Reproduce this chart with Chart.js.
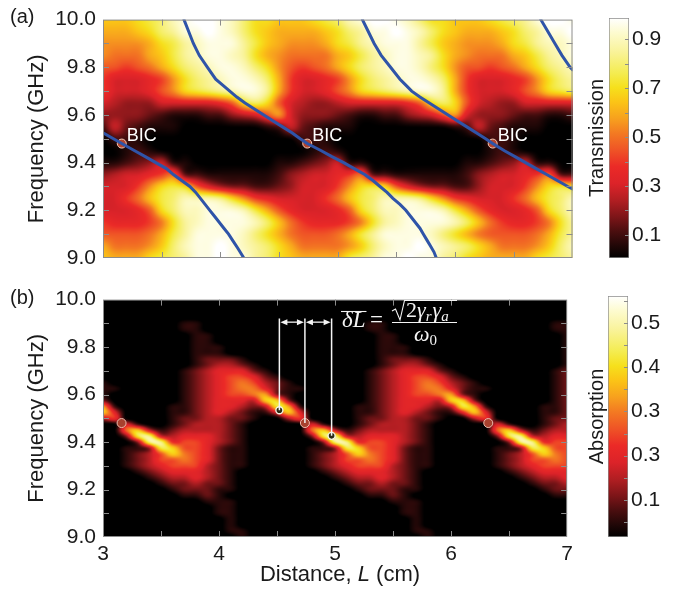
<!DOCTYPE html>
<html>
<head>
<meta charset="utf-8">
<title>BIC transmission and absorption maps</title>
<script src="https://cdn.jsdelivr.net/npm/chart.js@4.4.1/dist/chart.umd.min.js"></script>
<style>
  html, body { margin: 0; padding: 0; background: #fff; }
  #fig { position: relative; width: 676px; height: 591px; overflow: hidden; }
  #fig canvas { position: absolute; }
</style>
</head>
<body>
<div id="fig">
  <canvas id="mapA" width="578" height="280" style="left:0;top:0"></canvas>
  <canvas id="barA" width="98" height="280" style="left:578px;top:0"></canvas>
  <canvas id="mapB" width="578" height="311" style="left:0;top:280px"></canvas>
  <canvas id="barB" width="98" height="311" style="left:578px;top:280px"></canvas>
</div>
<script>
const FONT = '"Liberation Sans", Helvetica, Arial, sans-serif';
const SERIF = '"Liberation Serif", "DejaVu Serif", serif';
Chart.defaults.font.family = FONT;
Chart.defaults.color = '#1a1a1a';
Chart.defaults.animation = false;

// one character per cell, in steps of 0.05 (0 -> 0.00, A -> 0.50, K -> 1.00)
const LEVELS = '0123456789ABCDEFGHIJK';

// (a) transmission: rows f = 10.00 ... 9.00 GHz (step 0.05), columns L = 3.0 ... 7.0 cm (step 0.1)
const transRows = [
  'DDDEFGIJKKJIGEEDDDEFGIJKKJIGEEDDDEFGHJKKJ',
  'CCCDEGHJJKJIGEDCCCCDEGHJJKJIGEDCCCDEGHJJK',
  'BBBBCEFHIJJJHFDCBBBCEFHIJJJHFDCBBBCEFHIIJ',
  'BAAACDFHIJJIHECBAAAACDFHIJJIHECBAAACDFHIJ',
  '9989ACEGHIJJIGEB989ACEGHIJJIGEB9989ACEGHI',
  '866678BEGHIJJIGC86678BEGHIJJIGC866678BEGH',
  '866679BEFGHIJJHC86679BEFGHIJJHC866679BEFG',
  '654446666679EGE9654456666679EGE9654466666',
  '444432111224569C64443211224569C6444322112',
  '26321110000000126321110000000012632111000',
  '02210000000000000221000000000000022100000',
  '00121000000000000012100000000000012100000',
  '11234611000000011234611000000001123461100',
  '456678A221111112456678A221111112456678A22',
  '6668BEFE9643322346668BEFE964332246668BEFE',
  '668ADFGIIIHEB8766668ADFGIIIHEB876668ADFGI',
  '66679EGIIJJJIFC9766679EGIIJJJIFC976679EGI',
  '87778AEHIJJJJIGDA87778AEHIJJJJIGDA8778AEH',
  '9999ACFHJJJJIGECA999ACFHJJJJIGECA9999ACFH',
  'CAAABDGIJJKJIHGECAAAABDGIJJKJIHGECAAABDGI',
  'DCCCEFGHJJKJJHGEDCCCCFGHJJKJJHGEDCCCCEFGH'
];

// (b) absorption: rows f = 10.000 ... 9.000 GHz (step 0.025), columns L = 3.0 ... 7.0 cm (step 0.1)
const absRows = [
  '00000000000000000000000000000000000000000',
  '00000000000000000000000000000000000000000',
  '00000000000000000000000000000000000000000',
  '00000000000000000000000000000000000000000',
  '00000001100000000000000110000000000000011',
  '00000001100000000000000110000000000000011',
  '00000000110000000000000011000000000000001',
  '00000000110000000000000011000000000000001',
  '00000000111000000000000011100000000000001',
  '00000000111000000000000011100000000000001',
  '00000000122210000000000012221000000000001',
  '00000000123321000000000012332100000000001',
  '00000001234442100000000123444210000000012',
  '00000001234554210000000123455421000000012',
  '10000001234565321000000123456532100000012',
  '11000001234566421100000123456642110000012',
  '10000001234556721000000123455672100000012',
  '20000001234443882000000123444388200000012',
  '71000011234432397100001123443239710000112',
  '84000011234321148400001123432114840000112',
  '35000012233221003500001223322100350000122',
  '00410012333210000041001233321000004100123',
  '00683123333210000068312333321000006831233',
  '0029A334443210000029A334443210000029A3344',
  '0002AA45543210000002AA45543210000002AA455',
  '00112985542110000011298554211000001129855',
  '00123586542110000012358654211000001235865',
  '00123556542110000012355654211000001235565',
  '00123455532110000012345553211000001234555',
  '00012344432100000001234443210000000123444',
  '00001233432100000000123343210000000012334',
  '00000122322100000000012232210000000001223',
  '00000012221100000000001222110000000000122',
  '00000001121000000000000112100000000000011',
  '00000000011100000000000001110000000000000',
  '00000000001100000000000000110000000000000',
  '00000000001100000000000000110000000000000',
  '00000000000100000000000000010000000000000',
  '00000000000100000000000000010000000000000',
  '00000000000110000000000000011000000000000',
  '00000000000010000000000000001000000000000'
];

// eigenmode branches drawn in blue in (a): [L (cm), f (GHz)]
const branchA = [[3.00, 9.525], [3.16, 9.48], [3.27, 9.45], [3.36, 9.425], [3.45, 9.40], [3.54, 9.375],
  [3.60, 9.35], [3.67, 9.325], [3.74, 9.30], [3.79, 9.275], [3.83, 9.25], [3.87, 9.225], [3.91, 9.20],
  [3.95, 9.175], [3.99, 9.15], [4.03, 9.125], [4.07, 9.10], [4.11, 9.07], [4.15, 9.04], [4.20, 9.00]];
const branchB = [[3.69, 10.0], [3.73, 9.95], [3.77, 9.90], [3.82, 9.85], [3.89, 9.80], [3.96, 9.75],
  [4.02, 9.725], [4.08, 9.70], [4.14, 9.675], [4.21, 9.65], [4.29, 9.625], [4.37, 9.60], [4.45, 9.575],
  [4.53, 9.55], [4.61, 9.525], [4.68, 9.50], [4.74, 9.48], [4.86, 9.45], [4.95, 9.425], [5.05, 9.40],
  [5.14, 9.375], [5.23, 9.35], [5.30, 9.325], [5.36, 9.30], [5.42, 9.275], [5.47, 9.25], [5.53, 9.225],
  [5.58, 9.20], [5.62, 9.175], [5.66, 9.15], [5.70, 9.125], [5.73, 9.10], [5.76, 9.075], [5.79, 9.05],
  [5.82, 9.025], [5.84, 9.00]];
const branchC = [[5.21, 10.0], [5.26, 9.95], [5.31, 9.90], [5.37, 9.85], [5.45, 9.80], [5.53, 9.75],
  [5.58, 9.725], [5.63, 9.70], [5.70, 9.675], [5.78, 9.65], [5.86, 9.625], [5.94, 9.60], [6.02, 9.575],
  [6.10, 9.55], [6.18, 9.525], [6.26, 9.50], [6.32, 9.48], [6.42, 9.45], [6.51, 9.425], [6.60, 9.40],
  [6.69, 9.375], [6.78, 9.35], [6.87, 9.325], [6.96, 9.30], [7.00, 9.29]];
const branchD = [[6.73, 10.0], [6.79, 9.95], [6.85, 9.90], [6.91, 9.85], [6.98, 9.80], [7.00, 9.79]];

const bicL = [3.16, 4.74, 6.32];
const bicF = [9.48, 9.48, 9.48];
const qbicL = [4.52, 4.97];
const qbicF = [9.534, 9.426];
const guideTopF = 9.92;
const arrowF = 9.905;

const freqTicks = [9.0, 9.2, 9.4, 9.6, 9.8, 10.0];
const distTicks = [3, 4, 5, 6, 7];
const transTicks = [0.1, 0.3, 0.5, 0.7, 0.9];
const transTickLabels = ['0.1', '0.3', '0.5', '0.7', '0.9'];
const absTicks = [0.1, 0.2, 0.3, 0.4, 0.5];
const absTickLabels = ['0.1', '0.3', '0.3', '0.4', '0.5'];
const transRange = [0.006, 0.986];
const absRange = [0.016, 0.561];

// colour map (0 = bottom of bar, 1 = top)
const hotStops = [
  [0.00, '#000000'], [0.05, '#200707'], [0.11, '#4a0e0f'], [0.17, '#7c1518'],
  [0.24, '#b11e22'], [0.31, '#dc2329'], [0.38, '#eb2a27'], [0.45, '#ef5426'],
  [0.52, '#f37a22'], [0.58, '#f7a01e'], [0.65, '#fbc416'], [0.71, '#f6e01c'],
  [0.77, '#f4ec50'], [0.86, '#f9f39a'], [0.94, '#fdfbd0'], [1.00, '#ffffff']
];
const stopRGB = hotStops.map(([t, hex]) =>
  [t, parseInt(hex.slice(1, 3), 16), parseInt(hex.slice(3, 5), 16), parseInt(hex.slice(5, 7), 16)]);

function hot(t) {
  t = Math.min(Math.max(t, 0), 1);
  for (let i = 1; i < stopRGB.length; i++) {
    if (t <= stopRGB[i][0]) {
      const a = stopRGB[i - 1], b = stopRGB[i], u = (t - a[0]) / (b[0] - a[0]);
      return [a[1] + (b[1] - a[1]) * u, a[2] + (b[2] - a[2]) * u, a[3] + (b[3] - a[3]) * u];
    }
  }
  return stopRGB[stopRGB.length - 1].slice(1);
}

// Mitchell-Netravali cubic (B = C = 1/3) for smooth shading between cells
function mitchell(x) {
  x = Math.abs(x);
  if (x < 1) return (7 * x * x * x - 12 * x * x + 16 / 3) / 6;
  if (x < 2) return (-7 / 3 * x * x * x + 12 * x * x - 20 * x + 32 / 3) / 6;
  return 0;
}

function sampleGrid(grid, u, v) {
  const nr = grid.length;
  const rf = Math.min(Math.max(v, 0), 1) * (nr - 1);
  const r0 = Math.floor(rf);
  let sum = 0;
  for (let j = r0 - 1; j <= r0 + 2; j++) {
    const wy = mitchell(rf - j);
    if (!wy) continue;
    const row = grid[Math.min(Math.max(j, 0), nr - 1)];
    const nc = row.length;
    const cf = Math.min(Math.max(u, 0), 1) * (nc - 1);
    const c0 = Math.floor(cf);
    let rs = 0;
    for (let i = c0 - 1; i <= c0 + 2; i++) rs += mitchell(cf - i) * row[Math.min(Math.max(i, 0), nc - 1)];
    sum += wy * rs;
  }
  return sum;
}

// paints the cell grid into the chart area, positioned by the x / y scales
function heatmap(rows, range) {
  const grid = rows.map(r => Array.from(r, ch => LEVELS.indexOf(ch) * 0.05));
  return {
    id: 'heatmap',
    beforeDatasetsDraw(chart) {
      const { ctx, chartArea: a, scales: { x, y } } = chart;
      const w = Math.round(a.width), h = Math.round(a.height);
      const img = new ImageData(w, h);
      for (let py = 0; py < h; py++) {
        const v = (y.max - y.getValueForPixel(a.top + py + 0.5)) / (y.max - y.min);
        for (let px = 0; px < w; px++) {
          const u = (x.getValueForPixel(a.left + px + 0.5) - x.min) / (x.max - x.min);
          const c = hot((sampleGrid(grid, u, v) - range[0]) / (range[1] - range[0]));
          const k = (py * w + px) * 4;
          img.data[k] = c[0]; img.data[k + 1] = c[1]; img.data[k + 2] = c[2]; img.data[k + 3] = 255;
        }
      }
      const off = document.createElement('canvas');
      off.width = w; off.height = h;
      off.getContext('2d').putImageData(img, 0, 0);
      ctx.drawImage(off, a.left, a.top);
    }
  };
}

// grey frame with inward ticks on all four sides
const frameTicks = {
  id: 'frameTicks',
  afterDatasetsDraw(chart) {
    const { ctx, chartArea: a, scales: { x, y } } = chart;
    ctx.save();
    ctx.strokeStyle = '#8c8c8c';
    ctx.lineWidth = 1;
    ctx.beginPath();
    for (let v = 3.5; v < 7; v += 0.5) {
      const px = Math.round(x.getPixelForValue(v)) + 0.5;
      ctx.moveTo(px, a.top); ctx.lineTo(px, a.top + 6);
      ctx.moveTo(px, a.bottom); ctx.lineTo(px, a.bottom - 6);
    }
    for (let k = 1; k < 10; k++) {
      const py = Math.round(y.getPixelForValue(9 + k / 10)) + 0.5;
      ctx.moveTo(a.left, py); ctx.lineTo(a.left + 6, py);
      ctx.moveTo(a.right, py); ctx.lineTo(a.right - 6, py);
    }
    ctx.stroke();
    ctx.strokeRect(a.left + 0.5, a.top + 0.5, a.width - 1, a.height - 1);
    ctx.restore();
  }
};

function panelLetter(text, yMid) {
  return {
    id: 'panelLetter',
    afterDraw(chart) {
      const ctx = chart.ctx;
      ctx.save();
      ctx.fillStyle = '#1a1a1a';
      ctx.font = '20px ' + FONT;
      ctx.textBaseline = 'middle';
      ctx.fillText(text, 10, yMid);
      ctx.restore();
    }
  };
}

const bicLabels = {
  id: 'bicLabels',
  afterDatasetsDraw(chart) {
    const { ctx, scales: { x, y } } = chart;
    ctx.save();
    ctx.fillStyle = '#ffffff';
    ctx.font = '18px ' + FONT;
    bicL.forEach((L, i) => ctx.fillText('BIC', x.getPixelForValue(L) + 5, y.getPixelForValue(bicF[i]) - 3));
    ctx.restore();
  }
};

function arrowHead(ctx, x, y, dir) {
  ctx.beginPath();
  ctx.moveTo(x, y);
  ctx.lineTo(x - dir * 7, y - 3);
  ctx.lineTo(x - dir * 7, y + 3);
  ctx.closePath();
  ctx.fill();
}

// δL arrows, formula and the x-axis title of panel (b)
const deltaNote = {
  id: 'deltaNote',
  afterDatasetsDraw(chart) {
    const { ctx, scales: { x, y } } = chart;
    const xs = [x.getPixelForValue(qbicL[0]), x.getPixelForValue(bicL[1]), x.getPixelForValue(qbicL[1])];
    const ya = y.getPixelForValue(arrowF);
    ctx.save();
    ctx.fillStyle = ctx.strokeStyle = '#f4f4f4';
    ctx.lineWidth = 1.3;
    for (let i = 0; i < 2; i++) {
      const x1 = xs[i] + 1, x2 = xs[i + 1] - 1;
      ctx.beginPath(); ctx.moveTo(x1 + 4, ya); ctx.lineTo(x2 - 4, ya); ctx.stroke();
      arrowHead(ctx, x1, ya, -1);
      arrowHead(ctx, x2, ya, 1);
    }
    // overline δL = sqrt(2 γr γa) / ω0
    ctx.font = 'italic 23px ' + SERIF;
    ctx.fillText('δL', 342, 47);
    const wDL = ctx.measureText('δL').width;
    ctx.lineWidth = 1.1;
    ctx.beginPath(); ctx.moveTo(341, 31.5); ctx.lineTo(343 + wDL, 31.5); ctx.stroke();
    ctx.font = '23px ' + SERIF;
    ctx.fillText('=', 370, 47);
    ctx.beginPath();
    ctx.moveTo(392, 31); ctx.lineTo(395.5, 29); ctx.lineTo(400, 40); ctx.lineTo(404.5, 20.5); ctx.lineTo(457, 20.5);
    ctx.stroke();
    let cx = 406;
    const put = (txt, font, dy, gap) => {
      ctx.font = font;
      ctx.fillText(txt, cx, 37 + dy);
      cx += ctx.measureText(txt).width + gap;
    };
    put('2', '22px ' + SERIF, 0, 0);
    put('γ', 'italic 22px ' + SERIF, 0, 0);
    put('r', 'italic 15px ' + SERIF, 4, 1);
    put('γ', 'italic 22px ' + SERIF, 0, 0);
    put('a', 'italic 15px ' + SERIF, 4, 0);
    ctx.beginPath(); ctx.moveTo(392, 42.5); ctx.lineTo(457, 42.5); ctx.stroke();
    ctx.font = 'italic 22px ' + SERIF;
    ctx.fillText('ω', 414, 61);
    const wOm = ctx.measureText('ω').width;
    ctx.font = '15px ' + SERIF;
    ctx.fillText('0', 414 + wOm, 65);
    ctx.restore();
  },
  afterDraw(chart) {
    const ctx = chart.ctx;
    ctx.save();
    ctx.fillStyle = '#1a1a1a';
    ctx.textBaseline = 'middle';
    const parts = [['Distance, ', '22px '], ['L', 'italic 22px '], [' (cm)', '22px ']];
    let total = 0;
    parts.forEach(([t, f]) => { ctx.font = f + FONT; total += ctx.measureText(t).width; });
    let cx = 340 - total / 2;
    parts.forEach(([t, f]) => { ctx.font = f + FONT; ctx.fillText(t, cx, 295); cx += ctx.measureText(t).width; });
    ctx.restore();
  }
};

const pts = arr => arr.map(([x, y]) => ({ x, y }));
const branchSet = arr => ({
  data: pts(arr), showLine: true, pointRadius: 0, borderColor: '#2f54a8',
  borderWidth: 3, borderCapStyle: 'round', fill: false
});

function yAxis() {
  return {
    min: 9, max: 10,
    afterBuildTicks: s => { s.ticks = freqTicks.map(v => ({ value: v })); },
    ticks: { callback: v => v.toFixed(1), font: { size: 21 }, color: '#1a1a1a', padding: 7 },
    grid: { display: false, drawTicks: false },
    border: { display: false },
    title: { display: true, text: 'Frequency (GHz)', font: { size: 22 }, color: '#1a1a1a', padding: { top: 24, bottom: 0 } },
    afterFit: s => { s.width = 103; }
  };
}

// panel (a): transmission
new Chart(document.getElementById('mapA'), {
  type: 'scatter',
  data: {
    datasets: [
      branchSet(branchA), branchSet(branchB), branchSet(branchC), branchSet(branchD),
      {
        data: bicL.map((L, i) => ({ x: L, y: bicF[i] })), pointRadius: 4.5,
        backgroundColor: '#b3452e', borderColor: '#f5cdbd', borderWidth: 1
      }
    ]
  },
  options: {
    responsive: false, events: [],
    layout: { padding: { top: 18, right: 1, left: 0, bottom: 0 } },
    plugins: { legend: { display: false }, tooltip: { enabled: false } },
    scales: {
      x: {
        type: 'linear', min: 3, max: 7,
        ticks: { display: false }, grid: { display: false, drawTicks: false }, border: { display: false },
        afterFit: s => { s.height = 22; }
      },
      y: yAxis()
    }
  },
  plugins: [heatmap(transRows, transRange), frameTicks, bicLabels, panelLetter('(a)', 17)]
});

// panel (b): absorption
const guides = [[qbicL[0], qbicF[0]], [bicL[1], bicF[1]], [qbicL[1], qbicF[1]]].map(([L, f]) => ({
  data: [{ x: L, y: f }, { x: L, y: guideTopF }], showLine: true, pointRadius: 0,
  borderColor: '#f4f4f4', borderWidth: 1.5
}));

new Chart(document.getElementById('mapB'), {
  type: 'scatter',
  data: {
    datasets: [
      ...guides,
      {
        data: bicL.map((L, i) => ({ x: L, y: bicF[i] })), pointRadius: 4.5,
        backgroundColor: '#a8412e', borderColor: '#ecbcae', borderWidth: 1
      },
      {
        data: qbicL.map((L, i) => ({ x: L, y: qbicF[i] })), pointRadius: 3.5,
        backgroundColor: '#2a2a14', borderColor: '#f2f2e4', borderWidth: 1.4
      }
    ]
  },
  options: {
    responsive: false, events: [],
    layout: { padding: { top: 16, right: 1, left: 0, bottom: 0 } },
    plugins: { legend: { display: false }, tooltip: { enabled: false } },
    scales: {
      x: {
        type: 'linear', min: 3, max: 7,
        afterBuildTicks: s => { s.ticks = distTicks.map(v => ({ value: v })); },
        ticks: { font: { size: 21 }, color: '#1a1a1a', padding: 5, maxRotation: 0 },
        grid: { display: false, drawTicks: false }, border: { display: false },
        afterFit: s => { s.height = 54; }
      },
      y: yAxis()
    }
  },
  plugins: [heatmap(absRows, absRange), frameTicks, deltaNote, panelLetter('(b)', 18)]
});

// colour bars
function colourBar(id, range, tickVals, tickLabels, title, minorStep, pad, axisWidth) {
  new Chart(document.getElementById(id), {
    type: 'bar',
    data: {
      labels: [''],
      datasets: [{
        data: [range],
        backgroundColor(c) {
          const chart = c.chart, y = chart.scales.y;
          if (!chart.chartArea || !y) return '#000';
          const g = chart.ctx.createLinearGradient(0, y.getPixelForValue(y.min), 0, y.getPixelForValue(y.max));
          hotStops.forEach(([t, col]) => g.addColorStop(t, col));
          return g;
        },
        borderColor: '#8c8c8c', borderWidth: 1, borderSkipped: false,
        barPercentage: 1, categoryPercentage: 1
      }]
    },
    options: {
      responsive: false, events: [],
      layout: { padding: pad },
      plugins: { legend: { display: false }, tooltip: { enabled: false } },
      scales: {
        x: { display: false },
        y: {
          position: 'right', min: range[0], max: range[1],
          afterBuildTicks: s => { s.ticks = tickVals.map(v => ({ value: v })); },
          ticks: { callback: (v, i) => tickLabels[i], font: { size: 21 }, color: '#1a1a1a', padding: 3 },
          grid: { display: false, drawTicks: false }, border: { display: false },
          afterFit: s => { s.width = axisWidth; }
        }
      }
    },
    plugins: [{
      id: 'barDecor',
      afterDatasetsDraw(chart) {
        const { ctx, chartArea: a, scales: { y } } = chart;
        ctx.save();
        ctx.strokeStyle = '#8c8c8c';
        ctx.lineWidth = 1;
        ctx.beginPath();
        for (let k = 1; k * minorStep < y.max; k++) {
          const v = k * minorStep;
          if (v < y.min) continue;
          const py = Math.round(y.getPixelForValue(v)) + 0.5;
          ctx.moveTo(a.right - 4, py); ctx.lineTo(a.right, py);
        }
        ctx.stroke();
        ctx.fillStyle = '#1a1a1a';
        ctx.font = '20px ' + FONT;
        ctx.translate(19, (a.top + a.bottom) / 2);
        ctx.rotate(-Math.PI / 2);
        ctx.textAlign = 'center';
        ctx.textBaseline = 'middle';
        ctx.fillText(title, 0, 0);
        ctx.restore();
      }
    }]
  });
}

colourBar('barA', transRange, transTicks, transTickLabels, 'Transmission', 0.1,
  { left: 31, top: 18, bottom: 22, right: 0 }, 47);
colourBar('barB', absRange, absTicks, absTickLabels, 'Absorption', 0.05,
  { left: 30, top: 16, bottom: 54, right: 0 }, 48);
</script>
</body>
</html>
